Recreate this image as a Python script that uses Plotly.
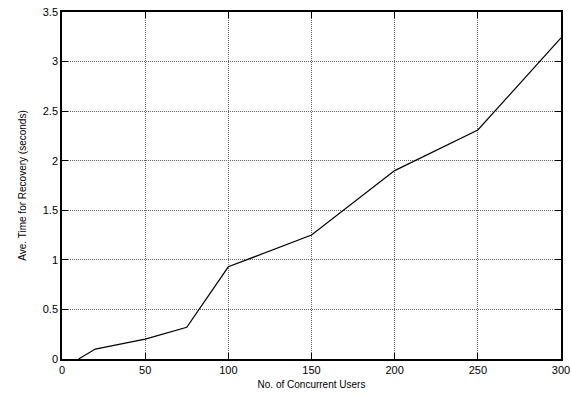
import plotly.graph_objects as go

users = [10, 20, 50, 75, 100, 150, 200, 250, 300]
recovery_time = [0.0, 0.10, 0.20, 0.32, 0.93, 1.25, 1.90, 2.31, 3.24]

x_ticks = [0, 50, 100, 150, 200, 250, 300]
y_ticks = [0, 0.5, 1, 1.5, 2, 2.5, 3, 3.5]

fig = go.Figure()
fig.add_trace(go.Scatter(x=users, y=recovery_time, mode="lines",
                         line=dict(color="black", width=1.2), showlegend=False))

axis_common = dict(
    showline=True, linecolor="black", linewidth=1.5, mirror="ticks",
    ticks="inside", ticklen=6, tickcolor="black", tickwidth=1,
    showgrid=True, gridcolor="#666666", griddash="1px,1px", gridwidth=1,
    zeroline=False, automargin=False,
    tickfont=dict(family="Liberation Sans, Arial", size=11, color="black"),
)

fig.update_xaxes(range=[0, 300], tickvals=x_ticks, ticktext=[str(v) for v in x_ticks],
                 title=dict(text="No. of Concurrent Users", standoff=6,
                            font=dict(family="Liberation Sans, Arial", size=10, color="black")),
                 **axis_common)
fig.update_yaxes(range=[0, 3.5], tickvals=y_ticks, ticktext=["0", "0.5", "1", "1.5", "2", "2.5", "3", "3.5"],
                 title=dict(text="Ave. Time for Recovery (seconds)", standoff=14,
                            font=dict(family="Liberation Sans, Arial", size=10, color="black")),
                 **axis_common)

fig.update_layout(width=571, height=395, margin=dict(l=62, r=10, t=12, b=36),
                  plot_bgcolor="white", paper_bgcolor="white")

fig.write_html("out.html", config={"displayModeBar": False},
               post_script="document.body.style.margin='0';document.body.style.overflow='hidden';")
